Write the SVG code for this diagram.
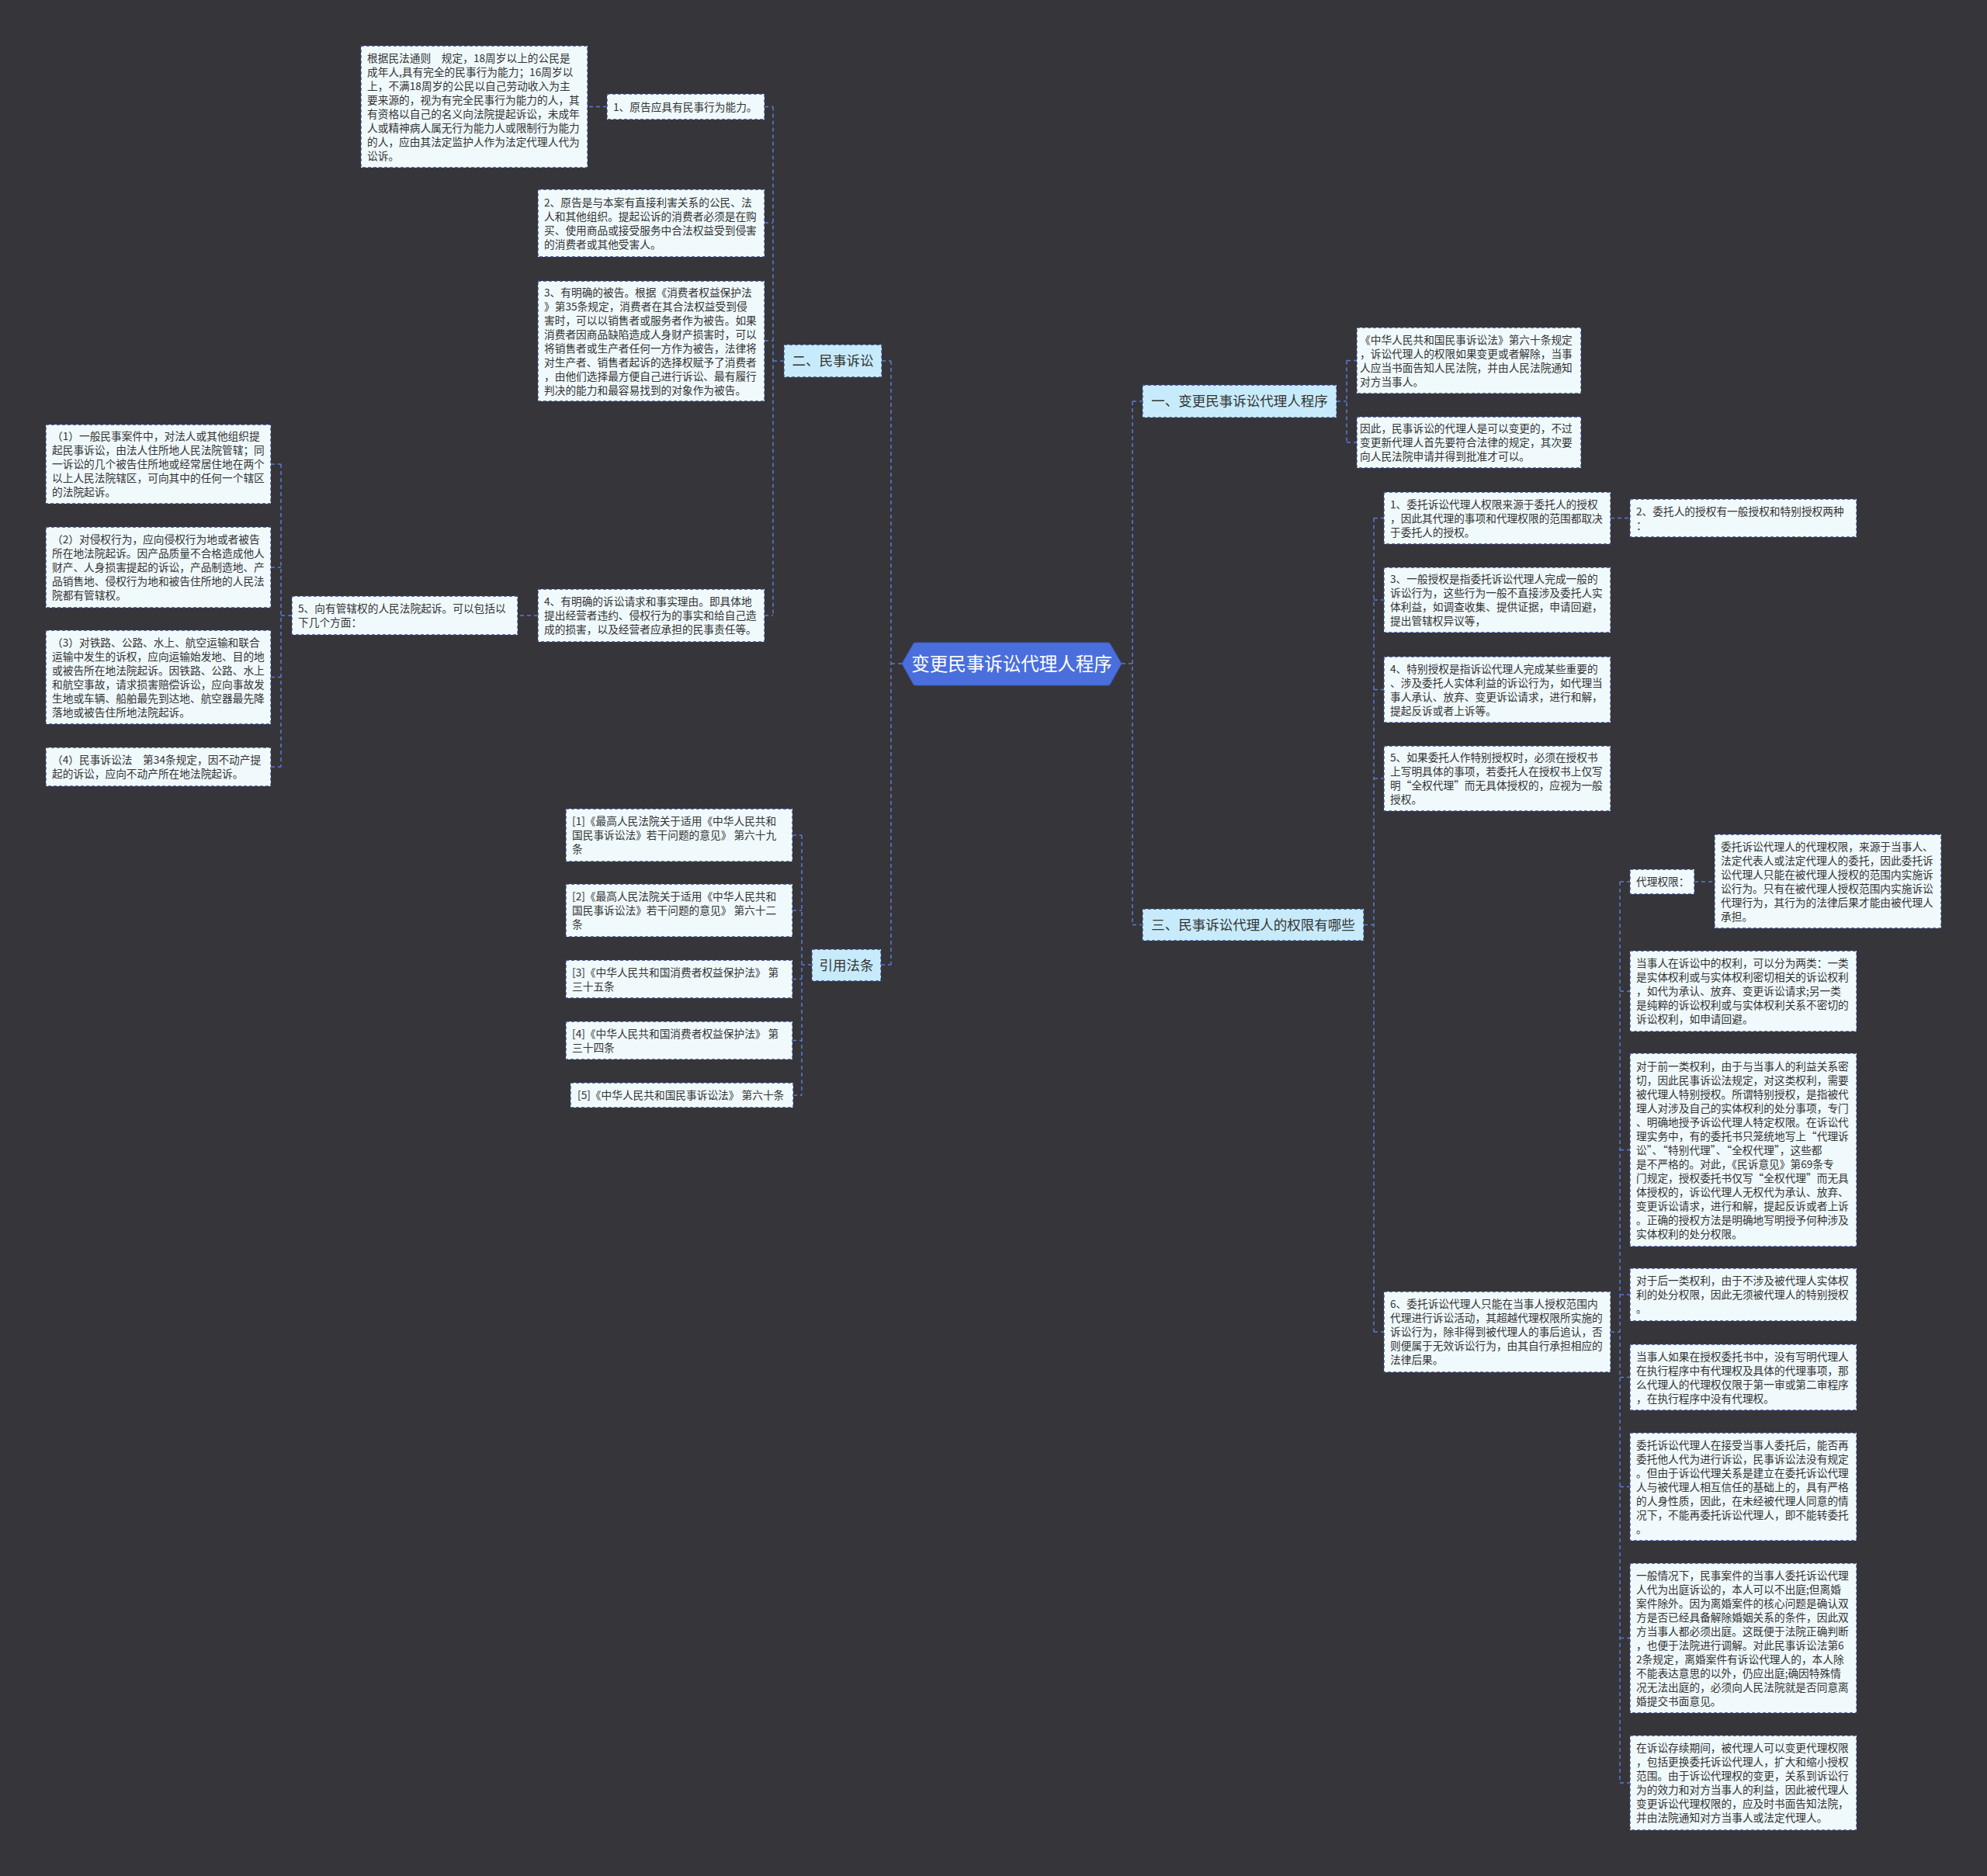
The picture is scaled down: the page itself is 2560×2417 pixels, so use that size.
<svg xmlns="http://www.w3.org/2000/svg" width="2560" height="2417" viewBox="0 0 2560 2417">
<style>
.bx{fill:#f0fafd;stroke:#34427e;stroke-width:1.3;stroke-dasharray:4 3}
.l1{fill:#c8ebfb;stroke:#34427e;stroke-width:1.3;stroke-dasharray:4 3}
.t{font-family:"Noto Sans CJK SC","Noto Sans",sans-serif;font-size:13.7px;fill:#333333}
.t1{font-family:"Noto Sans CJK SC","Noto Sans",sans-serif;font-size:17.5px;fill:#333333;text-anchor:middle}
.rt{font-family:"Noto Sans CJK SC","Noto Sans",sans-serif;font-size:23.5px;fill:#ffffff;text-anchor:middle}
.c{fill:none;stroke:#5a7bd6;stroke-width:1.5;stroke-dasharray:5 4}
</style>
<rect x="0" y="0" width="2560" height="2417" fill="#363539"/>
<g id="connectors">
<path class="c" d="M1162 855H1148M1148 465V1243M1136 465H1148M1135 1243H1148"/>
<path class="c" d="M1010 465H996M996 137.5V793M985 137.5H996M985 287H996M985 439H996M985 793H996"/>
<path class="c" d="M782 137.5H757M693 793H667M376 793H362M362 598V988M349 598H362M349 731H362M349 872.5H362M349 988H362"/>
<path class="c" d="M1046 1243H1033M1033 1076V1411M1021 1076H1033M1021 1173H1033M1021 1261.5H1033M1021 1340.5H1033M1022 1411H1033"/>
<path class="c" d="M1445 855H1459M1459 517V1191.5M1459 517H1472M1459 1191.5H1472"/>
<path class="c" d="M1722 517H1735M1735 464.5V570M1735 464.5H1748M1735 570H1748"/>
<path class="c" d="M1757 1191.5H1770M1770 667.5V1716M1770 667.5H1783M1770 773H1783M1770 888.5H1783M1770 1003H1783M1770 1716H1783M2075 667.5H2100"/>
<path class="c" d="M2075 1716H2087M2087 1136V2297M2087 1136H2100M2087 1277H2100M2087 1481.5H2100M2087 1668H2100M2087 1774.5H2100M2087 1915.5H2100M2087 2110.5H2100M2087 2297H2100M2183 1136H2209"/>
</g>
<g id="root">
<path d="M1162 855L1177 829Q1178 828 1180 828H1427Q1429 828 1430 829L1445 855L1430 882Q1429 883 1427 883H1180Q1178 883 1177 882Z" fill="#4a6fdc" stroke="#3a5bc4" stroke-width="1"/>
<text class="rt" x="1303.5" y="863.5">变更民事诉讼代理人程序</text>
</g>
<g id="n-er">
<rect class="l1" x="1010" y="444" width="126" height="42"/>
<text class="t1" x="1073" y="471">二、民事诉讼</text>
</g>
<g id="n-er-1">
<rect class="bx" x="782" y="121" width="203" height="33"/>
<text class="t" x="790" y="142.5">1、原告应具有民事行为能力。</text>
</g>
<g id="n-er-1-a">
<rect class="bx" x="465" y="59" width="292" height="157"/>
<text class="t" x="473" y="79.5"><tspan x="473">根据民法通则　规定，18周岁以上的公民是</tspan><tspan x="473" dy="18">成年人,具有完全的民事行为能力；16周岁以</tspan><tspan x="473" dy="18">上，不满18周岁的公民以自己劳动收入为主</tspan><tspan x="473" dy="18">要来源的，视为有完全民事行为能力的人，其</tspan><tspan x="473" dy="18">有资格以自己的名义向法院提起诉讼，未成年</tspan><tspan x="473" dy="18">人或精神病人属无行为能力人或限制行为能力</tspan><tspan x="473" dy="18">的人，应由其法定监护人作为法定代理人代为</tspan><tspan x="473" dy="18">讼诉。</tspan></text>
</g>
<g id="n-er-2">
<rect class="bx" x="693" y="244" width="292" height="87"/>
<text class="t" x="701" y="265.5"><tspan x="701">2、原告是与本案有直接利害关系的公民、法</tspan><tspan x="701" dy="18">人和其他组织。提起讼诉的消费者必须是在购</tspan><tspan x="701" dy="18">买、使用商品或接受服务中合法权益受到侵害</tspan><tspan x="701" dy="18">的消费者或其他受害人。</tspan></text>
</g>
<g id="n-er-3">
<rect class="bx" x="693" y="362" width="292" height="155"/>
<text class="t" x="701" y="381.5"><tspan x="701">3、有明确的被告。根据《消费者权益保护法</tspan><tspan x="701" dy="18">》第35条规定，消费者在其合法权益受到侵</tspan><tspan x="701" dy="18">害时，可以以销售者或服务者作为被告。如果</tspan><tspan x="701" dy="18">消费者因商品缺陷造成人身财产损害时，可以</tspan><tspan x="701" dy="18">将销售者或生产者任何一方作为被告，法律将</tspan><tspan x="701" dy="18">对生产者、销售者起诉的选择权赋予了消费者</tspan><tspan x="701" dy="18">，由他们选择最方便自己进行诉讼、最有履行</tspan><tspan x="701" dy="18">判决的能力和最容易找到的对象作为被告。</tspan></text>
</g>
<g id="n-er-4">
<rect class="bx" x="693" y="759" width="292" height="68"/>
<text class="t" x="701" y="780"><tspan x="701">4、有明确的诉讼请求和事实理由。即具体地</tspan><tspan x="701" dy="18">提出经营者违约、侵权行为的事实和给自己造</tspan><tspan x="701" dy="18">成的损害，以及经营者应承担的民事责任等。</tspan></text>
</g>
<g id="n-er-5">
<rect class="bx" x="376" y="768" width="291" height="50"/>
<text class="t" x="384" y="789"><tspan x="384">5、向有管辖权的人民法院起诉。可以包括以</tspan><tspan x="384" dy="18">下几个方面：</tspan></text>
</g>
<g id="n-er-5-1">
<rect class="bx" x="59" y="547" width="290" height="102"/>
<text class="t" x="67" y="567"><tspan x="67">（1）一般民事案件中，对法人或其他组织提</tspan><tspan x="67" dy="18">起民事诉讼，由法人住所地人民法院管辖；同</tspan><tspan x="67" dy="18">一诉讼的几个被告住所地或经常居住地在两个</tspan><tspan x="67" dy="18">以上人民法院辖区，可向其中的任何一个辖区</tspan><tspan x="67" dy="18">的法院起诉。</tspan></text>
</g>
<g id="n-er-5-2">
<rect class="bx" x="59" y="679" width="290" height="104"/>
<text class="t" x="67" y="700"><tspan x="67">（2）对侵权行为，应向侵权行为地或者被告</tspan><tspan x="67" dy="18">所在地法院起诉。因产品质量不合格造成他人</tspan><tspan x="67" dy="18">财产、人身损害提起的诉讼，产品制造地、产</tspan><tspan x="67" dy="18">品销售地、侵权行为地和被告住所地的人民法</tspan><tspan x="67" dy="18">院都有管辖权。</tspan></text>
</g>
<g id="n-er-5-3">
<rect class="bx" x="59" y="812" width="290" height="121"/>
<text class="t" x="67" y="832.5"><tspan x="67">（3）对铁路、公路、水上、航空运输和联合</tspan><tspan x="67" dy="18">运输中发生的诉权，应向运输始发地、目的地</tspan><tspan x="67" dy="18">或被告所在地法院起诉。因铁路、公路、水上</tspan><tspan x="67" dy="18">和航空事故，请求损害赔偿诉讼，应向事故发</tspan><tspan x="67" dy="18">生地或车辆、船舶最先到达地、航空器最先降</tspan><tspan x="67" dy="18">落地或被告住所地法院起诉。</tspan></text>
</g>
<g id="n-er-5-4">
<rect class="bx" x="59" y="963" width="290" height="50"/>
<text class="t" x="67" y="984"><tspan x="67">（4）民事诉讼法　第34条规定，因不动产提</tspan><tspan x="67" dy="18">起的诉讼，应向不动产所在地法院起诉。</tspan></text>
</g>
<g id="n-yin">
<rect class="l1" x="1046" y="1223" width="89" height="41"/>
<text class="t1" x="1090.5" y="1249.5">引用法条</text>
</g>
<g id="n-yin-1">
<rect class="bx" x="729" y="1042" width="292" height="68"/>
<text class="t" x="737" y="1063"><tspan x="737">[1]《最高人民法院关于适用《中华人民共和</tspan><tspan x="737" dy="18">国民事诉讼法》若干问题的意见》 第六十九</tspan><tspan x="737" dy="18">条</tspan></text>
</g>
<g id="n-yin-2">
<rect class="bx" x="729" y="1139" width="292" height="68"/>
<text class="t" x="737" y="1160"><tspan x="737">[2]《最高人民法院关于适用《中华人民共和</tspan><tspan x="737" dy="18">国民事诉讼法》若干问题的意见》 第六十二</tspan><tspan x="737" dy="18">条</tspan></text>
</g>
<g id="n-yin-3">
<rect class="bx" x="729" y="1237" width="292" height="49"/>
<text class="t" x="737" y="1257.5"><tspan x="737">[3]《中华人民共和国消费者权益保护法》 第</tspan><tspan x="737" dy="18">三十五条</tspan></text>
</g>
<g id="n-yin-4">
<rect class="bx" x="729" y="1316" width="292" height="49"/>
<text class="t" x="737" y="1336.5"><tspan x="737">[4]《中华人民共和国消费者权益保护法》 第</tspan><tspan x="737" dy="18">三十四条</tspan></text>
</g>
<g id="n-yin-5">
<rect class="bx" x="735" y="1395" width="287" height="32"/>
<text class="t" x="744" y="1416">[5]《中华人民共和国民事诉讼法》 第六十条</text>
</g>
<g id="n-yi">
<rect class="l1" x="1472" y="496" width="250" height="42"/>
<text class="t1" x="1597" y="523">一、变更民事诉讼代理人程序</text>
</g>
<g id="n-yi-1">
<rect class="bx" x="1748" y="422" width="289" height="85"/>
<text class="t" x="1752" y="442.5"><tspan x="1752">《中华人民共和国民事诉讼法》第六十条规定</tspan><tspan x="1752" dy="18">，诉讼代理人的权限如果变更或者解除，当事</tspan><tspan x="1752" dy="18">人应当书面告知人民法院，并由人民法院通知</tspan><tspan x="1752" dy="18">对方当事人。</tspan></text>
</g>
<g id="n-yi-2">
<rect class="bx" x="1748" y="537" width="289" height="66"/>
<text class="t" x="1752" y="557"><tspan x="1752">因此，民事诉讼的代理人是可以变更的，不过</tspan><tspan x="1752" dy="18">变更新代理人首先要符合法律的规定，其次要</tspan><tspan x="1752" dy="18">向人民法院申请并得到批准才可以。</tspan></text>
</g>
<g id="n-san">
<rect class="l1" x="1472" y="1171" width="285" height="41"/>
<text class="t1" x="1614.5" y="1197.5">三、民事诉讼代理人的权限有哪些</text>
</g>
<g id="n-san-1">
<rect class="bx" x="1783" y="634" width="292" height="67"/>
<text class="t" x="1791" y="654.5"><tspan x="1791">1、委托诉讼代理人权限来源于委托人的授权</tspan><tspan x="1791" dy="18">，因此其代理的事项和代理权限的范围都取决</tspan><tspan x="1791" dy="18">于委托人的授权。</tspan></text>
</g>
<g id="n-san-2">
<rect class="bx" x="2100" y="643" width="292" height="49"/>
<text class="t" x="2108" y="663.5"><tspan x="2108">2、委托人的授权有一般授权和特别授权两种</tspan><tspan x="2108" dy="18">：</tspan></text>
</g>
<g id="n-san-3">
<rect class="bx" x="1783" y="731" width="292" height="84"/>
<text class="t" x="1791" y="751"><tspan x="1791">3、一般授权是指委托诉讼代理人完成一般的</tspan><tspan x="1791" dy="18">诉讼行为，这些行为一般不直接涉及委托人实</tspan><tspan x="1791" dy="18">体利益，如调查收集、提供证据，申请回避，</tspan><tspan x="1791" dy="18">提出管辖权异议等，</tspan></text>
</g>
<g id="n-san-4">
<rect class="bx" x="1783" y="846" width="292" height="85"/>
<text class="t" x="1791" y="866.5"><tspan x="1791">4、特别授权是指诉讼代理人完成某些重要的</tspan><tspan x="1791" dy="18">、涉及委托人实体利益的诉讼行为，如代理当</tspan><tspan x="1791" dy="18">事人承认、放弃、变更诉讼请求，进行和解，</tspan><tspan x="1791" dy="18">提起反诉或者上诉等。</tspan></text>
</g>
<g id="n-san-5">
<rect class="bx" x="1783" y="961" width="292" height="84"/>
<text class="t" x="1791" y="981"><tspan x="1791">5、如果委托人作特别授权时，必须在授权书</tspan><tspan x="1791" dy="18">上写明具体的事项，若委托人在授权书上仅写</tspan><tspan x="1791" dy="18">明“全权代理”而无具体授权的，应视为一般</tspan><tspan x="1791" dy="18">授权。</tspan></text>
</g>
<g id="n-san-6">
<rect class="bx" x="1783" y="1664" width="292" height="104"/>
<text class="t" x="1791" y="1685"><tspan x="1791">6、委托诉讼代理人只能在当事人授权范围内</tspan><tspan x="1791" dy="18">代理进行诉讼活动，其超越代理权限所实施的</tspan><tspan x="1791" dy="18">诉讼行为，除非得到被代理人的事后追认，否</tspan><tspan x="1791" dy="18">则便属于无效诉讼行为，由其自行承担相应的</tspan><tspan x="1791" dy="18">法律后果。</tspan></text>
</g>
<g id="n-san-6-1">
<rect class="bx" x="2100" y="1120" width="83" height="32"/>
<text class="t" x="2108" y="1141">代理权限：</text>
</g>
<g id="n-san-6-1-a">
<rect class="bx" x="2209" y="1075" width="292" height="121"/>
<text class="t" x="2217" y="1095.5"><tspan x="2217">委托诉讼代理人的代理权限，来源于当事人、</tspan><tspan x="2217" dy="18">法定代表人或法定代理人的委托，因此委托诉</tspan><tspan x="2217" dy="18">讼代理人只能在被代理人授权的范围内实施诉</tspan><tspan x="2217" dy="18">讼行为。只有在被代理人授权范围内实施诉讼</tspan><tspan x="2217" dy="18">代理行为，其行为的法律后果才能由被代理人</tspan><tspan x="2217" dy="18">承担。</tspan></text>
</g>
<g id="n-san-6-2">
<rect class="bx" x="2100" y="1225" width="292" height="104"/>
<text class="t" x="2108" y="1246"><tspan x="2108">当事人在诉讼中的权利，可以分为两类：一类</tspan><tspan x="2108" dy="18">是实体权利或与实体权利密切相关的诉讼权利</tspan><tspan x="2108" dy="18">，如代为承认、放弃、变更诉讼请求;另一类</tspan><tspan x="2108" dy="18">是纯粹的诉讼权利或与实体权利关系不密切的</tspan><tspan x="2108" dy="18">诉讼权利，如申请回避。</tspan></text>
</g>
<g id="n-san-6-3">
<rect class="bx" x="2100" y="1357" width="292" height="249"/>
<text class="t" x="2108" y="1378.5"><tspan x="2108">对于前一类权利，由于与当事人的利益关系密</tspan><tspan x="2108" dy="18">切，因此民事诉讼法规定，对这类权利，需要</tspan><tspan x="2108" dy="18">被代理人特别授权。所谓特别授权，是指被代</tspan><tspan x="2108" dy="18">理人对涉及自己的实体权利的处分事项，专门</tspan><tspan x="2108" dy="18">、明确地授予诉讼代理人特定权限。在诉讼代</tspan><tspan x="2108" dy="18">理实务中，有的委托书只笼统地写上“代理诉</tspan><tspan x="2108" dy="18">讼”、“特别代理”、“全权代理”，这些都</tspan><tspan x="2108" dy="18">是不严格的。对此，《民诉意见》第69条专</tspan><tspan x="2108" dy="18">门规定，授权委托书仅写“全权代理”而无具</tspan><tspan x="2108" dy="18">体授权的，诉讼代理人无权代为承认、放弃、</tspan><tspan x="2108" dy="18">变更诉讼请求，进行和解，提起反诉或者上诉</tspan><tspan x="2108" dy="18">。正确的授权方法是明确地写明授予何种涉及</tspan><tspan x="2108" dy="18">实体权利的处分权限。</tspan></text>
</g>
<g id="n-san-6-4">
<rect class="bx" x="2100" y="1634" width="292" height="68"/>
<text class="t" x="2108" y="1655"><tspan x="2108">对于后一类权利，由于不涉及被代理人实体权</tspan><tspan x="2108" dy="18">利的处分权限，因此无须被代理人的特别授权</tspan><tspan x="2108" dy="18">。</tspan></text>
</g>
<g id="n-san-6-5">
<rect class="bx" x="2100" y="1732" width="292" height="85"/>
<text class="t" x="2108" y="1752.5"><tspan x="2108">当事人如果在授权委托书中，没有写明代理人</tspan><tspan x="2108" dy="18">在执行程序中有代理权及具体的代理事项，那</tspan><tspan x="2108" dy="18">么代理人的代理权仅限于第一审或第二审程序</tspan><tspan x="2108" dy="18">，在执行程序中没有代理权。</tspan></text>
</g>
<g id="n-san-6-6">
<rect class="bx" x="2100" y="1846" width="292" height="139"/>
<text class="t" x="2108" y="1866.5"><tspan x="2108">委托诉讼代理人在接受当事人委托后，能否再</tspan><tspan x="2108" dy="18">委托他人代为进行诉讼，民事诉讼法没有规定</tspan><tspan x="2108" dy="18">。但由于诉讼代理关系是建立在委托诉讼代理</tspan><tspan x="2108" dy="18">人与被代理人相互信任的基础上的，具有严格</tspan><tspan x="2108" dy="18">的人身性质，因此，在未经被代理人同意的情</tspan><tspan x="2108" dy="18">况下，不能再委托诉讼代理人，即不能转委托</tspan><tspan x="2108" dy="18">。</tspan></text>
</g>
<g id="n-san-6-7">
<rect class="bx" x="2100" y="2014" width="292" height="193"/>
<text class="t" x="2108" y="2034.5"><tspan x="2108">一般情况下，民事案件的当事人委托诉讼代理</tspan><tspan x="2108" dy="18">人代为出庭诉讼的，本人可以不出庭;但离婚</tspan><tspan x="2108" dy="18">案件除外。因为离婚案件的核心问题是确认双</tspan><tspan x="2108" dy="18">方是否已经具备解除婚姻关系的条件，因此双</tspan><tspan x="2108" dy="18">方当事人都必须出庭。这既便于法院正确判断</tspan><tspan x="2108" dy="18">，也便于法院进行调解。对此民事诉讼法第6</tspan><tspan x="2108" dy="18">2条规定，离婚案件有诉讼代理人的，本人除</tspan><tspan x="2108" dy="18">不能表达意思的以外，仍应出庭;确因特殊情</tspan><tspan x="2108" dy="18">况无法出庭的，必须向人民法院就是否同意离</tspan><tspan x="2108" dy="18">婚提交书面意见。</tspan></text>
</g>
<g id="n-san-6-8">
<rect class="bx" x="2100" y="2236" width="292" height="122"/>
<text class="t" x="2108" y="2257"><tspan x="2108">在诉讼存续期间，被代理人可以变更代理权限</tspan><tspan x="2108" dy="18">，包括更换委托诉讼代理人，扩大和缩小授权</tspan><tspan x="2108" dy="18">范围。由于诉讼代理权的变更，关系到诉讼行</tspan><tspan x="2108" dy="18">为的效力和对方当事人的利益，因此被代理人</tspan><tspan x="2108" dy="18">变更诉讼代理权限的，应及时书面告知法院，</tspan><tspan x="2108" dy="18">并由法院通知对方当事人或法定代理人。</tspan></text>
</g>
</svg>
